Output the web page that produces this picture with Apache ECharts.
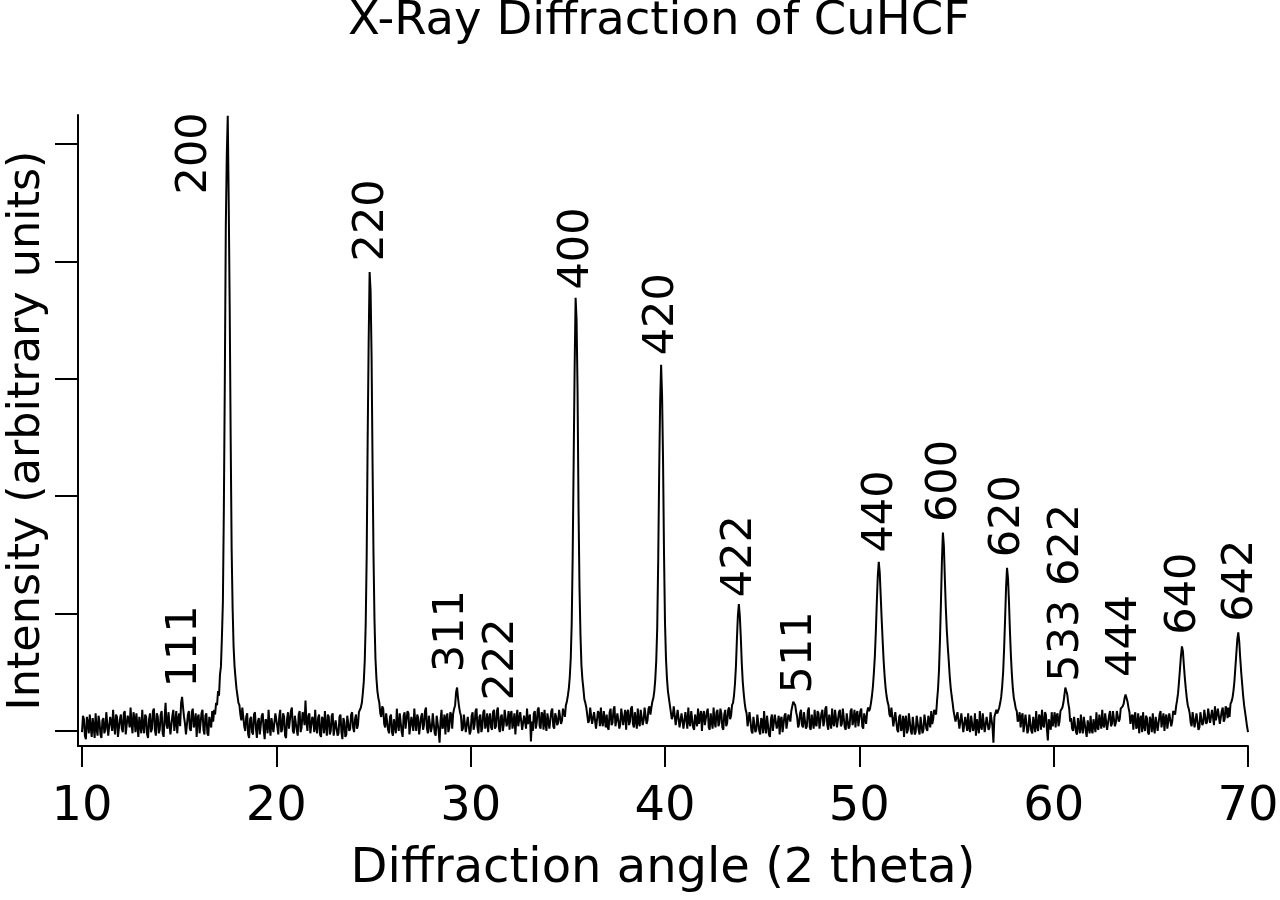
<!DOCTYPE html>
<html>
<head>
<meta charset="utf-8">
<title>X-Ray Diffraction of CuHCF</title>
<script src="https://cdn.jsdelivr.net/npm/echarts@6/dist/echarts.min.js"></script>
<style>
  html, body { margin: 0; padding: 0; background: #fff; }
  #container { width: 1280px; height: 900px; }
</style>
</head>
<body>
<div id="container"></div>
<script>
// scan starts at 10 deg, one reading every 0.05 deg up to 70 deg
var angleStart = 10;
var angleStep = 0.05;

// intensity (arbitrary units, one row = one degree)
var intensity = [
  -0.01, 0.13, 0.10, -0.04, -0.07, 0.12, 0.07, -0.02, 0.14, 0.03, -0.05, 0.11, 0.04, -0.06, 0.15, 0.02, -0.04, 0.13, 0.08, -0.03,  // 10
  -0.06, 0.09, 0.11, -0.02, 0.01, 0.16, 0.15, -0.04, -0.05, 0.12, 0.08, 0.00, 0.18, 0.05, -0.03, 0.14, 0.12, -0.05, -0.06, 0.10,  // 11
  0.14, 0.02, -0.01, 0.15, 0.17, -0.03, -0.04, 0.13, 0.10, 0.03, 0.20, 0.06, -0.02, 0.16, 0.11, -0.01, 0.15, 0.04, -0.05, 0.12,    // 12
  0.11, -0.02, 0.18, 0.04, -0.02, 0.14, 0.12, -0.03, -0.06, 0.10, 0.15, -0.01, 0.02, 0.17, 0.19, 0.01, -0.04, 0.15, 0.12, -0.02,   // 13
  0.01, 0.14, 0.17, -0.02, -0.05, 0.11, 0.24, 0.05, 0.02, 0.16, 0.15, -0.03, -0.03, 0.13, 0.18, 0.00, 0.07, 0.17, -0.02, 0.10,     // 14
  0.15, 0.04, 0.24, 0.29, 0.20, 0.12, 0.06, -0.03, -0.02, 0.14, 0.17, 0.02, 0.00, 0.16, 0.19, 0.03, 0.07, 0.15, -0.05, 0.11,       // 15
  0.14, -0.02, -0.01, 0.15, 0.18, 0.01, -0.03, 0.13, 0.15, -0.02, -0.04, 0.12, 0.11, 0.03, 0.17, 0.08, 0.18, 0.14, 0.24, 0.22,     // 16
  0.34, 0.30, 0.48, 0.55, 0.80, 1.10, 1.90, 3.00, 4.30, 4.90, 5.24, 4.50, 3.60, 2.50, 1.55, 1.05, 0.72, 0.55, 0.45, 0.36,          // 17
  0.30, 0.24, 0.22, 0.14, 0.09, 0.20, 0.19, 0.04, 0.00, 0.12, 0.15, -0.03, -0.06, 0.10, 0.12, -0.01, -0.03, 0.14, 0.16, 0.02,      // 18
  -0.06, 0.08, 0.11, -0.03, -0.02, 0.13, 0.15, 0.01, -0.07, 0.10, 0.08, -0.02, 0.18, 0.05, -0.04, 0.11, 0.12, -0.01, 0.00, 0.15,   // 19
  0.15, 0.04, -0.03, 0.12, 0.18, -0.01, 0.01, 0.15, 0.12, -0.04, -0.06, 0.10, 0.16, 0.02, 0.03, 0.17, 0.20, 0.00, -0.02, 0.13,     // 20
  0.12, 0.01, -0.04, 0.14, 0.17, -0.01, 0.03, 0.16, 0.14, 0.05, 0.26, 0.08, 0.00, 0.13, 0.15, -0.02, -0.03, 0.12, 0.10, -0.01,     // 21
  0.18, 0.03, -0.02, 0.11, 0.14, -0.03, -0.05, 0.12, 0.10, -0.02, 0.17, 0.04, -0.04, 0.14, 0.12, -0.03, 0.00, 0.13, 0.15, -0.04,   // 22
  -0.05, 0.09, 0.10, -0.04, -0.02, 0.12, 0.14, -0.01, -0.07, 0.11, 0.08, -0.05, -0.03, 0.13, 0.12, 0.00, 0.02, 0.14, 0.16, 0.03,   // 23
  -0.01, 0.10, 0.14, 0.02, 0.05, 0.16, 0.15, 0.20, 0.24, 0.32, 0.42, 0.60, 0.92, 1.50, 2.50, 3.30, 3.91, 3.75, 3.20, 2.30,         // 24
  1.50, 0.95, 0.62, 0.45, 0.34, 0.28, 0.24, 0.15, 0.12, 0.21, 0.19, 0.06, 0.03, 0.15, 0.16, 0.01, -0.02, 0.12, 0.14, -0.01,        // 25
  -0.04, 0.10, 0.11, -0.02, 0.19, 0.06, 0.00, 0.15, 0.14, -0.01, -0.05, 0.13, 0.16, 0.02, 0.03, 0.17, 0.15, -0.03, -0.02, 0.12,    // 26
  0.12, 0.00, 0.19, 0.07, 0.00, 0.14, 0.11, -0.03, -0.04, 0.12, 0.15, 0.01, 0.05, 0.17, 0.20, 0.02, -0.02, 0.13, 0.14, -0.01,      // 27
  0.03, 0.15, 0.16, -0.02, -0.04, 0.13, 0.12, 0.00, -0.10, 0.09, 0.18, 0.02, 0.05, 0.14, -0.03, 0.11, 0.15, -0.01, 0.03, 0.16,     // 28
  0.14, 0.02, 0.15, 0.19, 0.22, 0.33, 0.37, 0.28, 0.21, 0.16, 0.13, 0.00, 0.02, 0.14, 0.15, -0.01, -0.02, 0.12, 0.11, -0.03,       // 29
  0.00, 0.13, 0.16, 0.01, 0.05, 0.17, 0.19, 0.03, -0.02, 0.12, 0.14, -0.01, 0.03, 0.16, 0.18, 0.02, 0.06, 0.15, -0.01, 0.10,       // 30
  0.15, 0.03, 0.01, 0.16, 0.18, 0.02, 0.04, 0.17, 0.20, 0.03, -0.01, 0.12, 0.14, 0.00, 0.05, 0.18, 0.19, 0.04, 0.08, 0.17,         // 31
  0.01, 0.14, 0.17, 0.02, 0.07, 0.15, -0.03, 0.10, 0.18, 0.04, 0.03, 0.16, 0.15, 0.01, 0.00, 0.13, 0.12, 0.02, 0.19, 0.06,         // 32
  0.05, 0.14, -0.09, 0.08, 0.00, 0.15, 0.17, 0.02, 0.07, 0.18, 0.20, 0.04, 0.02, 0.16, 0.14, 0.01, 0.18, 0.06, 0.00, 0.15,         // 33
  0.15, 0.02, 0.03, 0.17, 0.19, 0.04, 0.02, 0.15, 0.12, 0.05, 0.07, 0.18, 0.17, 0.06, 0.09, 0.19, 0.20, 0.12, 0.22, 0.25,          // 34
  0.30, 0.36, 0.46, 0.62, 0.92, 1.50, 2.30, 3.10, 3.69, 3.50, 2.90, 1.90, 1.22, 0.82, 0.56, 0.44, 0.36, 0.27, 0.24, 0.20,          // 35
  0.19, 0.07, 0.09, 0.20, 0.21, 0.06, 0.05, 0.16, 0.17, 0.02, 0.03, 0.17, 0.15, 0.04, 0.20, 0.08, 0.04, 0.17, 0.16, 0.03,          // 36
  0.14, 0.03, 0.01, 0.16, 0.19, 0.05, 0.07, 0.18, 0.21, 0.04, 0.03, 0.15, 0.15, 0.02, 0.06, 0.19, 0.20, 0.05, 0.12, 0.18,          // 37
  0.01, 0.15, 0.18, 0.05, 0.08, 0.19, 0.21, 0.06, 0.03, 0.16, 0.15, 0.02, 0.19, 0.07, 0.04, 0.18, 0.17, 0.05, 0.09, 0.20,          // 38
  0.20, 0.06, 0.09, 0.19, 0.21, 0.14, 0.20, 0.25, 0.28, 0.34, 0.44, 0.60, 0.88, 1.45, 2.20, 2.80, 3.12, 2.85, 2.30, 1.50,          // 39
  0.92, 0.62, 0.45, 0.34, 0.28, 0.22, 0.21, 0.10, 0.13, 0.21, 0.20, 0.05, 0.06, 0.18, 0.17, 0.03, 0.04, 0.15, 0.16, 0.02,          // 40
  0.03, 0.16, 0.15, 0.02, 0.20, 0.07, 0.04, 0.17, 0.18, 0.03, 0.01, 0.14, 0.13, 0.04, 0.19, 0.06, 0.07, 0.17, 0.00, 0.13,          // 41
  0.17, 0.05, 0.04, 0.16, 0.19, 0.03, 0.01, 0.15, 0.14, 0.02, 0.20, 0.08, 0.03, 0.16, 0.18, 0.04, 0.07, 0.19, 0.15, 0.03,          // 42
  0.01, 0.14, 0.18, 0.04, 0.07, 0.18, 0.20, 0.10, 0.13, 0.22, 0.24, 0.30, 0.40, 0.55, 0.78, 0.98, 1.08, 0.98, 0.80, 0.58,          // 43
  0.42, 0.32, 0.24, 0.18, 0.15, 0.04, 0.05, 0.16, 0.15, 0.00, -0.02, 0.12, 0.12, -0.01, 0.01, 0.14, 0.15, 0.00, -0.03, 0.11,       // 44
  0.09, -0.02, 0.17, 0.04, -0.02, 0.13, 0.12, -0.03, -0.05, 0.10, 0.14, 0.00, 0.01, 0.14, 0.15, 0.02, 0.06, 0.13, -0.03, 0.10,     // 45
  0.12, -0.01, 0.00, 0.13, 0.15, 0.02, 0.03, 0.14, 0.14, 0.08, 0.17, 0.21, 0.25, 0.26, 0.22, 0.16, 0.12, 0.03, 0.06, 0.15,         // 46
  0.18, 0.05, 0.03, 0.16, 0.15, 0.02, 0.04, 0.17, 0.20, 0.03, 0.01, 0.14, 0.14, 0.02, 0.18, 0.06, 0.04, 0.17, 0.15, 0.02,          // 47
  0.03, 0.15, 0.18, 0.04, 0.08, 0.19, 0.21, 0.05, 0.01, 0.14, 0.14, 0.02, 0.19, 0.07, 0.04, 0.18, 0.17, 0.03, 0.03, 0.16,          // 48
  0.18, 0.04, 0.06, 0.19, 0.20, 0.03, 0.01, 0.15, 0.15, 0.02, 0.04, 0.17, 0.19, 0.05, 0.09, 0.18, 0.03, 0.14, 0.17, 0.04,          // 49
  0.05, 0.17, 0.19, 0.04, 0.02, 0.15, 0.14, 0.06, 0.16, 0.20, 0.17, 0.19, 0.24, 0.30, 0.38, 0.50, 0.64, 0.85, 1.10, 1.32,          // 50
  1.44, 1.35, 1.15, 0.95, 0.77, 0.60, 0.47, 0.37, 0.30, 0.25, 0.22, 0.14, 0.12, 0.20, 0.19, 0.04, 0.05, 0.16, 0.15, 0.01,          // 51
  -0.01, 0.12, 0.14, 0.00, 0.03, 0.13, -0.05, 0.09, 0.13, -0.02, 0.01, 0.15, 0.15, 0.00, -0.03, 0.12, 0.11, -0.03, -0.01, 0.13,    // 52
  0.13, 0.01, -0.03, 0.12, 0.11, -0.02, 0.01, 0.14, 0.15, 0.02, 0.00, 0.13, 0.12, 0.03, 0.17, 0.06, 0.10, 0.18, 0.18, 0.14,        // 53
  0.26, 0.36, 0.52, 0.78, 1.10, 1.45, 1.69, 1.58, 1.30, 1.05, 0.86, 0.72, 0.60, 0.47, 0.37, 0.30, 0.24, 0.17, 0.18, 0.08,          // 54
  0.07, 0.16, 0.17, 0.02, 0.01, 0.15, 0.14, -0.01, -0.02, 0.12, 0.11, 0.00, 0.15, 0.03, -0.01, 0.13, 0.13, 0.00, 0.03, 0.15,       // 55
  -0.04, 0.10, 0.11, -0.02, 0.17, 0.04, 0.01, 0.15, 0.14, -0.01, -0.02, 0.12, 0.13, 0.01, 0.03, 0.16, 0.15, 0.04, -0.10, 0.12,     // 56
  0.11, 0.18, 0.15, 0.16, 0.20, 0.24, 0.29, 0.38, 0.50, 0.70, 0.95, 1.22, 1.39, 1.30, 1.10, 0.85, 0.64, 0.48, 0.36, 0.28,          // 57
  0.24, 0.19, 0.17, 0.08, 0.10, 0.16, 0.03, 0.12, 0.15, -0.01, 0.00, 0.14, 0.13, -0.02, 0.01, 0.14, 0.14, 0.00, -0.02, 0.12,       // 58
  0.11, -0.01, 0.17, 0.04, 0.00, 0.14, 0.12, 0.01, 0.18, 0.05, 0.03, 0.16, 0.14, 0.02, -0.08, 0.10, 0.09, 0.01, 0.16, 0.04,        // 59
  0.09, 0.16, 0.03, 0.13, 0.15, 0.04, 0.08, 0.17, 0.17, 0.20, 0.24, 0.30, 0.37, 0.36, 0.31, 0.24, 0.19, 0.08, 0.11, 0.02,          // 60
  0.00, 0.12, 0.13, -0.01, -0.03, 0.11, 0.10, -0.02, 0.14, 0.03, -0.02, 0.12, 0.11, 0.00, -0.05, 0.09, 0.08, -0.02, 0.13, 0.01,    // 61
  -0.02, 0.10, 0.11, -0.01, 0.16, 0.03, 0.01, 0.14, 0.13, 0.02, 0.18, 0.05, 0.03, 0.15, 0.14, 0.01, 0.00, 0.13, 0.17, 0.04,        // 62
  0.06, 0.17, 0.16, 0.04, 0.07, 0.17, 0.18, 0.08, 0.10, 0.19, 0.18, 0.21, 0.23, 0.28, 0.31, 0.30, 0.25, 0.20, 0.16, 0.06,          // 63
  0.12, 0.14, 0.01, 0.12, 0.16, 0.02, 0.04, 0.15, -0.02, 0.10, 0.13, -0.01, 0.16, 0.04, 0.00, 0.13, 0.11, -0.01, -0.03, 0.12,      // 64
  0.09, -0.01, 0.15, 0.03, -0.02, 0.12, 0.13, 0.00, 0.01, 0.14, 0.17, 0.03, 0.04, 0.15, 0.00, 0.11, 0.14, 0.02, 0.03, 0.15,        // 65
  0.15, 0.04, 0.08, 0.17, 0.18, 0.14, 0.21, 0.26, 0.32, 0.42, 0.53, 0.64, 0.72, 0.68, 0.56, 0.45, 0.36, 0.28, 0.22, 0.19,          // 66
  0.15, 0.07, 0.04, 0.16, 0.15, 0.03, 0.02, 0.15, 0.14, 0.01, 0.03, 0.16, 0.17, 0.05, 0.07, 0.18, 0.18, 0.06, 0.08, 0.19,          // 67
  0.19, 0.07, 0.06, 0.18, 0.17, 0.05, 0.21, 0.09, 0.08, 0.19, 0.18, 0.06, 0.05, 0.17, 0.20, 0.08, 0.10, 0.21, 0.19, 0.11,          // 68
  0.20, 0.12, 0.23, 0.25, 0.28, 0.34, 0.42, 0.54, 0.66, 0.78, 0.84, 0.76, 0.62, 0.50, 0.40, 0.30, 0.22, 0.16, 0.10, 0.04,          // 69
  -0.01                                                                                                                            // 70
];

// Miller indices written above the reflections
var hklLabels = ['111', '200', '220', '311', '222', '400', '420', '422', '511',
                 '440', '600', '620', '533 622', '444', '640', '642'];
var labelAngles = [15.3, 15.8, 24.93, 29.04, 31.6, 35.48, 39.85, 43.87, 46.95,
                   51.12, 54.42, 57.66, 60.69, 63.68, 66.72, 69.65];
var labelBase = [0.37, 4.57, 4.0, 0.50, 0.26, 3.76, 3.2, 1.14, 0.32,
                 1.52, 1.78, 1.48, 0.42, 0.46, 0.82, 0.93];

var xTicks = [10, 20, 30, 40, 50, 60, 70];
var yTicks = [0, 1, 2, 3, 4, 5];

var font = 'DejaVu Sans';

var pattern = [];
for (var i = 0; i < intensity.length; i++) {
  pattern.push([+(angleStart + i * angleStep).toFixed(2), intensity[i]]);
}
var labelPts = [];
for (var j = 0; j < hklLabels.length; j++) {
  labelPts.push({ name: hklLabels[j], value: [labelAngles[j], labelBase[j]] });
}

var chart = echarts.init(document.getElementById('container'), null, { renderer: 'canvas' });

var option = {
  backgroundColor: '#fff',
  animation: false,
  title: {
    text: 'X-Ray Diffraction of CuHCF',
    left: 348,
    top: -2,
    padding: 0,
    textStyle: { fontFamily: font, fontSize: 46.5, fontWeight: 'normal', color: '#000' }
  },
  grid: { left: 78, right: 32, top: 115, bottom: 154, containLabel: false, outerBoundsMode: 'none' },
  xAxis: {
    type: 'value',
    min: 9.794,
    max: 70,
    name: 'Diffraction angle (2 theta)',
    nameLocation: 'middle',
    nameGap: 100,
    nameTextStyle: { fontFamily: font, fontSize: 48, color: '#000' },
    axisLine: { onZero: false, lineStyle: { color: '#000', width: 2 } },
    axisTick: { show: true, customValues: xTicks, length: 21, lineStyle: { color: '#000', width: 2 } },
    axisLabel: { customValues: xTicks, margin: 38, fontFamily: font, fontSize: 48, color: '#000' },
    splitLine: { show: false }
  },
  yAxis: {
    type: 'value',
    min: -0.128,
    max: 5.247,
    name: 'Intensity (arbitrary units)',
    nameLocation: 'middle',
    nameRotate: 90,
    nameGap: 28,
    nameTextStyle: { fontFamily: font, fontSize: 44.5, color: '#000' },
    axisLine: { show: true, onZero: false, lineStyle: { color: '#000', width: 2 } },
    axisTick: { show: true, customValues: yTicks, length: 23, lineStyle: { color: '#000', width: 2 } },
    axisLabel: { show: false },
    splitLine: { show: false }
  },
  series: [
    {
      type: 'line',
      data: pattern,
      showSymbol: false,
      silent: true,
      lineStyle: { color: '#000', width: 2 }
    },
    {
      // invisible anchors carrying the hkl text
      type: 'scatter',
      data: labelPts,
      symbolSize: 1,
      silent: true,
      itemStyle: { color: 'rgba(0,0,0,0)', opacity: 1 },
      label: {
        show: true,
        position: 'inside',
        rotate: 90,
        align: 'left',
        verticalAlign: 'middle',
        formatter: '{b}',
        fontFamily: font,
        fontSize: 43,
        color: '#000',
        opacity: 1,
        textBorderWidth: 0
      }
    }
  ]
};

chart.setOption(option);
</script>
</body>
</html>
